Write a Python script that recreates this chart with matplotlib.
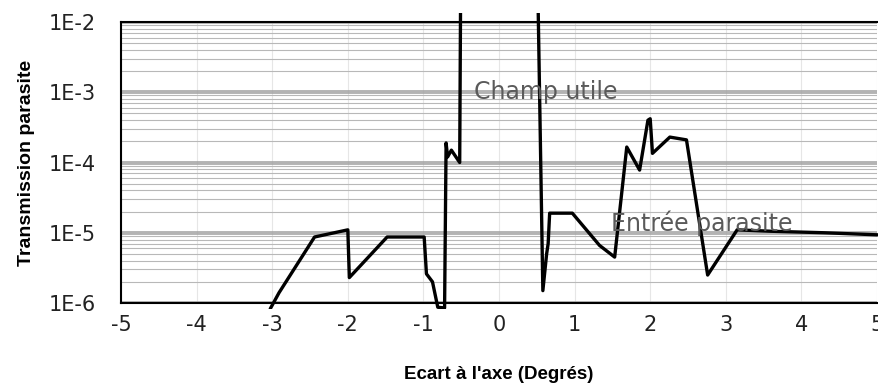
import numpy as np
import matplotlib.pyplot as plt
from matplotlib.patches import Rectangle
from matplotlib.ticker import LogLocator, FixedLocator, FixedFormatter

plt.rcParams["axes.unicode_minus"] = False

# Courbe de transmission parasite
ecart = [-3.02, -2.91, -2.44, -2.00, -1.98, -1.48, -0.99, -0.96, -0.88, -0.81,
         -0.72, -0.70, -0.68, -0.63, -0.52, -0.50, 0.0, 0.49, 0.58, 0.63, 0.65,
         0.67, 0.71, 0.97, 1.33, 1.53, 1.69, 1.86, 1.97, 2.00, 2.03,
         2.26, 2.48, 2.76, 3.15, 3.60, 4.30, 5.05]
transmission = [8.5e-7, 1.4e-6, 8.7e-6, 1.1e-5, 2.3e-6, 8.7e-6, 8.7e-6, 2.6e-6, 2.0e-6, 8.7e-7,
                8.5e-7, 1.9e-4, 1.2e-4, 1.5e-4, 1.0e-4, 1.0, 1.0, 1.0, 1.5e-6, 5.0e-6, 7.0e-6,
                1.9e-5, 1.9e-5, 1.9e-5, 6.6e-6, 4.5e-6, 1.66e-4, 7.8e-5, 4.0e-4, 4.2e-4, 1.35e-4,
                2.3e-4, 2.1e-4, 2.5e-6, 1.1e-5, 1.05e-5, 1.0e-5, 9.3e-6]

yticks = [1e-2, 1e-3, 1e-4, 1e-5, 1e-6]
ytick_labels = ["1E-2", "1E-3", "1E-4", "1E-5", "1E-6"]
xticks = [-5, -4, -3, -2, -1, 0, 1, 2, 3, 4, 5]

fig = plt.figure(figsize=(8.79, 3.89), dpi=100)
ax = fig.add_axes([0.1377, 0.2211, 0.86, 0.7223])

ax.set_yscale("log")
ax.set_xlim(-5, 5)
ax.set_ylim(1e-6, 1e-2)

ax.yaxis.set_major_locator(FixedLocator(yticks))
ax.yaxis.set_major_formatter(FixedFormatter(ytick_labels))
ax.yaxis.set_minor_locator(LogLocator(base=10, subs=np.arange(2, 10)))
ax.yaxis.set_minor_formatter(plt.NullFormatter())
ax.set_xticks(xticks)

ax.grid(True, which="major", axis="y", color="#a0a0a0", linewidth=2.8, alpha=0.8)
ax.grid(True, which="minor", axis="y", color="#b8b8b8", linewidth=0.8)
ax.grid(True, which="major", axis="x", color="#e6e6e6", linewidth=0.8)

# the curve runs a little past the frame, as in the scanned original
line, = ax.plot(ecart, transmission, color="black", linewidth=2.4, zorder=5)
clip = Rectangle((-0.01, -0.02), 1.02, 1.052, transform=ax.transAxes,
                 facecolor="none", edgecolor="none")
line.set_clip_path(clip)

ax.text(-0.33, 1.0e-3, "Champ utile", fontsize=17, color="#5a5a5a",
        va="center", ha="left", zorder=6)
ax.text(1.48, 1.38e-5, "Entrée parasite", fontsize=17, color="#5a5a5a",
        va="center", ha="left", zorder=6)

ax.tick_params(axis="both", which="both", length=0, labelsize=15, colors="#222222")
ax.tick_params(axis="x", pad=9)
ax.tick_params(axis="y", pad=18)
for side in ["top", "bottom", "left"]:
    ax.spines[side].set_linewidth(1.5)
ax.spines["right"].set_visible(False)

ax.set_ylabel("Transmission parasite", fontsize=14, fontweight="bold",
              family="Liberation Sans", labelpad=10)
ax.set_xlabel("Ecart à l'axe (Degrés)", fontsize=13.5, fontweight="bold",
              family="Liberation Sans", labelpad=22)

fig.savefig("out.png", dpi=100)
